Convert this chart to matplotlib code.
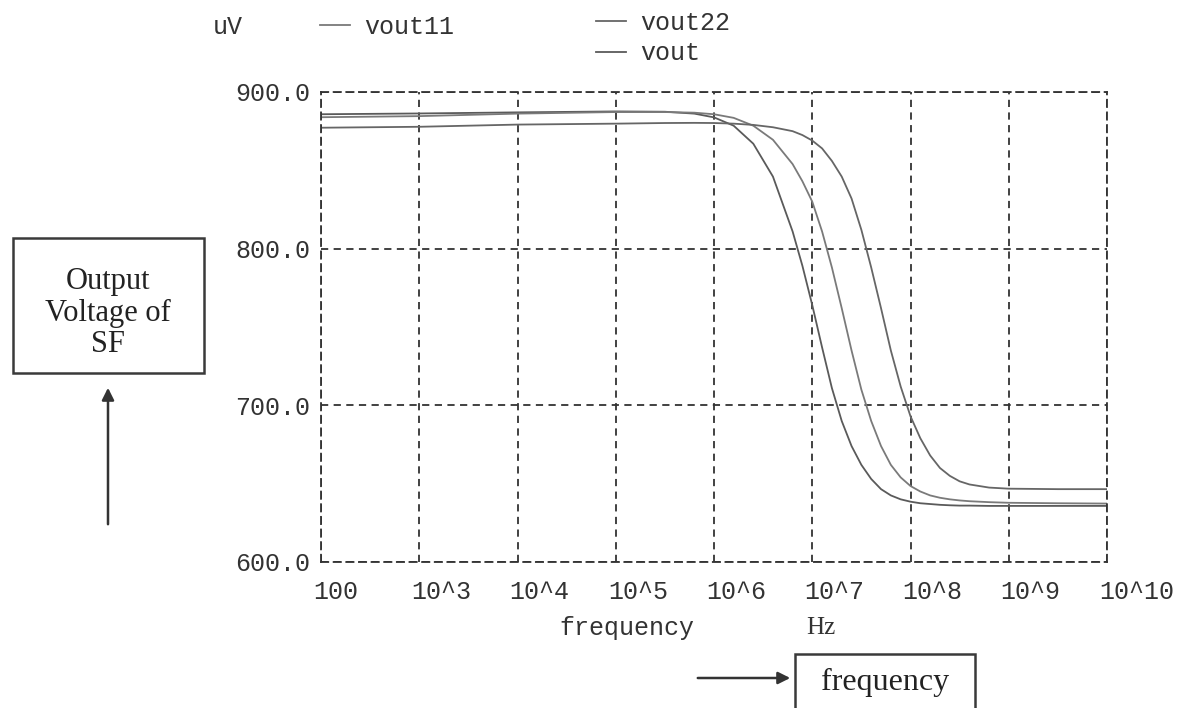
import matplotlib
matplotlib.use('Agg')
import matplotlib.pyplot as plt
import numpy as np
from matplotlib.patches import Rectangle, FancyArrowPatch
from matplotlib.transforms import ScaledTranslation

plt.rcParams['font.family'] = ['Liberation Mono', 'DejaVu Sans Mono']
plt.rcParams['font.size'] = 18

# log10(frequency) and output voltage in uV
log_f = [2, 3, 4, 5, 5.5, 5.8, 6.0, 6.2, 6.4, 6.6, 6.8, 6.9, 7.0, 7.1, 7.2, 7.3, 7.4,
         7.5, 7.6, 7.7, 7.8, 7.9, 8.0, 8.1, 8.2, 8.3, 8.4, 8.5, 8.6, 8.8, 9.0, 9.5, 10]
vout = [885.8, 886.3, 887.0, 887.6, 887.4, 886.2, 883.8, 878.5, 867, 846, 811, 789, 764,
        737, 711, 690, 674, 662, 653, 646.5, 642.5, 640, 638.5, 637.5, 637, 636.5, 636.2,
        636, 636, 635.8, 635.8, 635.8, 635.8]
vout11 = [883.9, 884.6, 886.2, 887.2, 887.2, 886.8, 885.8, 883.5, 878.5, 869.5, 854, 843,
          830, 811, 788, 762, 735, 710, 690, 674, 662, 654, 648.5, 645, 642.5, 641, 640,
          639.3, 638.8, 638.2, 637.8, 637.5, 637.3]
vout22 = [877.2, 877.8, 879.2, 879.8, 880.2, 880.3, 880.2, 879.8, 879, 877.5, 875, 872.5,
          869, 864, 856, 846, 832, 812, 788, 762, 735, 712, 693, 679, 668, 660, 655, 651.5,
          649.5, 647.5, 646.8, 646.5, 646.5]

x_ticks = [1e2, 1e3, 1e4, 1e5, 1e6, 1e7, 1e8, 1e9, 1e10]
x_labels = ['100', '10^3', '10^4', '10^5', '10^6', '10^7', '10^8', '10^9', '10^10']
y_ticks = [600, 700, 800, 900]

W, H = 1181, 708
freq = 10 ** np.array(log_f)
txt_col = '#333333'

fig = plt.figure(figsize=(W / 100, H / 100), dpi=100)
ax = fig.add_axes([321 / W, 146 / H, 786 / W, 470 / H])

l_out, = ax.plot(freq, vout, color='#5a5a5a', lw=1.3)
l_11, = ax.plot(freq, vout11, color='#7a7a7a', lw=1.3)
l_22, = ax.plot(freq, vout22, color='#666666', lw=1.3)

ax.set_xscale('log')
ax.set_xlim(1e2, 1e10)
ax.set_ylim(600, 900)
ax.set_xticks(x_ticks)
ax.set_xticklabels(x_labels)
ax.xaxis.set_minor_locator(matplotlib.ticker.NullLocator())
ax.set_yticks(y_ticks)
ax.set_yticklabels(['%.1f' % v for v in y_ticks])

dash = (0, (4, 3))
ax.grid(True, linestyle=dash, color='#333333', lw=1.3)
for s in ax.spines.values():
    s.set_linestyle(dash)
    s.set_color('#333333')
    s.set_linewidth(1.3)
ax.tick_params(length=0, colors=txt_col, labelsize=18)
ax.tick_params(axis='x', pad=13)
ax.tick_params(axis='y', pad=8)
off = ScaledTranslation(-8 / 100, 0, fig.dpi_scale_trans)
for t in ax.get_xticklabels():
    t.set_horizontalalignment('left')
    t.set_transform(t.get_transform() + off)

# header: unit and legend entries
fig.text(228 / W, 1 - 27 / H, 'uV', ha='center', va='center', color=txt_col)
leg1 = ax.legend([l_11], ['vout11'], loc='center left', frameon=False,
                 bbox_to_anchor=(320 / W, 1 - 27 / H), bbox_transform=fig.transFigure,
                 handlelength=1.2, handletextpad=0.55, borderaxespad=0, borderpad=0,
                 fontsize=18, labelcolor=txt_col)
ax.add_artist(leg1)
ax.legend([l_22, l_out], ['vout22', 'vout'], loc='upper left', frameon=False,
          bbox_to_anchor=(596 / W, 1 - 11 / H), bbox_transform=fig.transFigure,
          handlelength=1.2, handletextpad=0.55, borderaxespad=0, borderpad=0,
          labelspacing=0.25, fontsize=18, labelcolor=txt_col)

fig.text(627 / W, 1 - 628 / H, 'frequency', ha='center', va='center', color=txt_col)
fig.text(821 / W, 1 - 628 / H, 'Hz', ha='center', va='center', color=txt_col,
         family='Liberation Serif', size=18)

# annotation boxes and arrows
serif = 'Liberation Serif'
fig.add_artist(Rectangle((13 / W, 1 - 373 / H), 191 / W, 135 / H, transform=fig.transFigure,
                         fill=False, ec='#3a3a3a', lw=1.8))
fig.text(108 / W, 1 - 313 / H, 'Output\nVoltage of\nSF', ha='center', va='center',
         family=serif, size=22, linespacing=1.1, color='#222222')
fig.add_artist(FancyArrowPatch((108 / W, 1 - 527 / H), (108 / W, 1 - 385 / H),
                               transform=fig.transFigure, arrowstyle='-|>',
                               mutation_scale=18, color='#333333', lw=1.8))

fig.add_artist(Rectangle((795 / W, 1 - 712 / H), 180 / W, 58 / H, transform=fig.transFigure,
                         fill=False, ec='#3a3a3a', lw=1.8, clip_on=False))
fig.text(885 / W, 1 - 682 / H, 'frequency', ha='center', va='center', family=serif,
         size=23, color='#222222')
fig.add_artist(FancyArrowPatch((695 / W, 1 - 678 / H), (793 / W, 1 - 678 / H),
                               transform=fig.transFigure, arrowstyle='-|>',
                               mutation_scale=18, color='#333333', lw=1.8))

fig.savefig('out.png', dpi=100, facecolor='white')
